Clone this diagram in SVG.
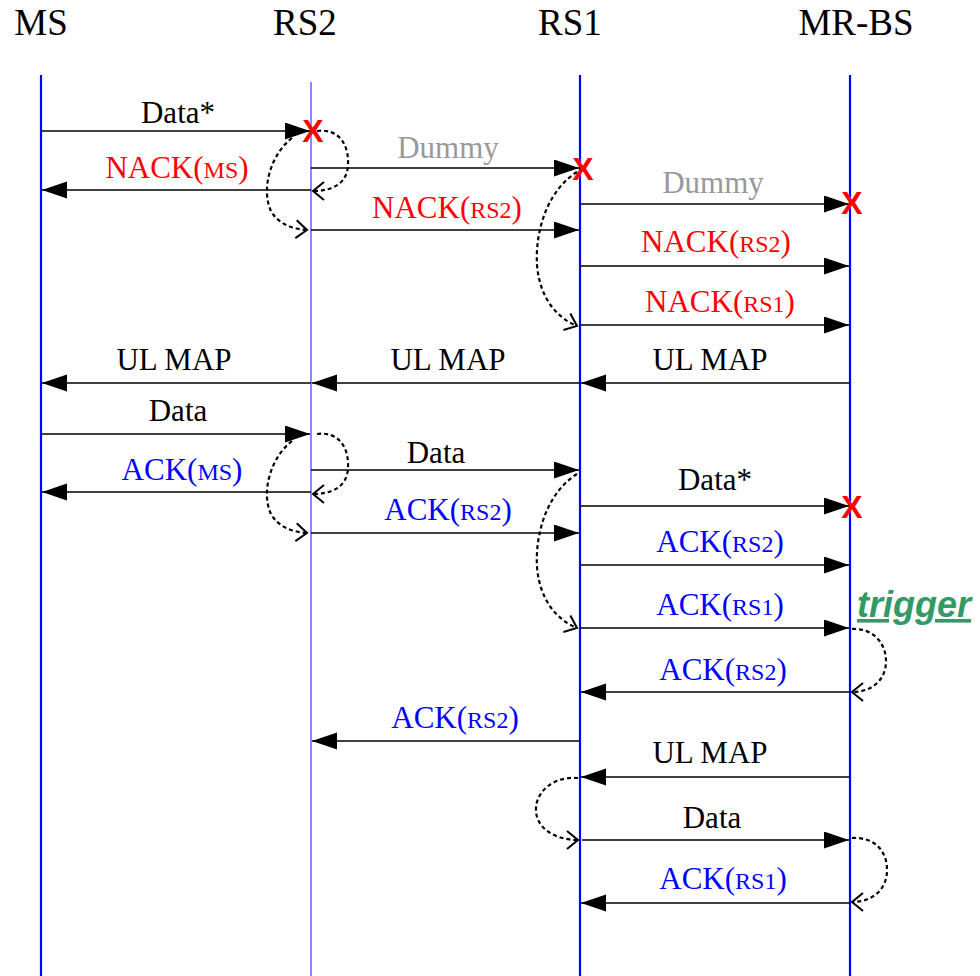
<svg xmlns="http://www.w3.org/2000/svg" width="980" height="976" viewBox="0 0 980 976">
<style>
.title{font-family:"Liberation Serif","Times New Roman",serif;font-size:37px;fill:#000;text-anchor:middle}
.lbl{font-family:"Liberation Serif","Times New Roman",serif;font-size:31px;text-anchor:middle}
.sc{font-size:24px}
.blk{fill:#000}.red{fill:#ff0000}.blu{fill:#0000ff}.gry{fill:#999999}
.msg{stroke:#000;stroke-width:1.4;fill:none;marker-end:url(#ah)}
.dot{stroke:#000;stroke-width:2.2;stroke-dasharray:4 3;fill:none;marker-end:url(#oa)}
.life{stroke:#0000ff;stroke-width:2.2}
.x{font-family:"Liberation Sans",Arial,sans-serif;font-weight:bold;font-size:32px;fill:#ff0000;text-anchor:middle}
.trig{font-family:"Liberation Sans",Arial,sans-serif;font-weight:bold;font-style:italic;font-size:36px;fill:#339966;text-decoration:underline}
</style>
<defs>
<marker id="ah" markerUnits="userSpaceOnUse" markerWidth="26" markerHeight="18" refX="25" refY="8.5" orient="auto" viewBox="0 0 26 18"><path d="M0,0 L25,8.5 L0,17z" fill="#000"/></marker>
<marker id="oa" markerUnits="userSpaceOnUse" markerWidth="16" markerHeight="22" refX="0" refY="0" orient="auto" viewBox="-13 -11 16 22"><path d="M-11,-9 L0,0 L-11,9" stroke="#000" stroke-width="2" fill="none"/></marker>
</defs>
<rect width="980" height="976" fill="#fff"/>
<g id="MS"><text class="title" x="41" y="35">MS</text><line class="life" x1="41" y1="75" x2="41" y2="976"/></g>
<g id="RS2"><text class="title" x="305" y="35">RS2</text><line x1="311" y1="82" x2="311" y2="976" stroke="#3a3aff" stroke-width="1.2"/></g>
<g id="RS1"><text class="title" x="570" y="35">RS1</text><line class="life" x1="580" y1="75" x2="580" y2="976"/></g>
<g id="MR-BS"><text class="title" x="856" y="35">MR-BS</text><line class="life" x1="850" y1="75" x2="850" y2="976"/></g>
<g id="connectors">
<line class="msg" x1="41" y1="131" x2="310" y2="131"/>
<line class="msg" x1="311" y1="190" x2="42" y2="190"/>
<line class="msg" x1="311" y1="168" x2="579" y2="168"/>
<line class="msg" x1="311" y1="230" x2="579" y2="230"/>
<line class="msg" x1="580" y1="204" x2="849" y2="204"/>
<line class="msg" x1="580" y1="266" x2="849" y2="266"/>
<line class="msg" x1="580" y1="325" x2="849" y2="325"/>
<line class="msg" x1="850" y1="383" x2="581" y2="383"/>
<line class="msg" x1="580" y1="383" x2="312" y2="383"/>
<line class="msg" x1="311" y1="383" x2="42" y2="383"/>
<line class="msg" x1="41" y1="434" x2="310" y2="434"/>
<line class="msg" x1="311" y1="470" x2="579" y2="470"/>
<line class="msg" x1="311" y1="492" x2="42" y2="492"/>
<line class="msg" x1="311" y1="533" x2="579" y2="533"/>
<line class="msg" x1="580" y1="506" x2="849" y2="506"/>
<line class="msg" x1="580" y1="565" x2="849" y2="565"/>
<line class="msg" x1="580" y1="628" x2="849" y2="628"/>
<line class="msg" x1="850" y1="692" x2="581" y2="692"/>
<line class="msg" x1="580" y1="741" x2="312" y2="741"/>
<line class="msg" x1="850" y1="777" x2="581" y2="777"/>
<line class="msg" x1="582" y1="840" x2="849" y2="840"/>
<line class="msg" x1="850" y1="903" x2="581" y2="903"/>
<path class="dot" d="M317,131 C340,128 349,146 348,165 C347,184 332,191 313,191"/>
<path class="dot" d="M292,138 C270,155 261,190 271,211 C279,225 294,229 307,230"/>
<path class="dot" d="M577,172 C548,190 535,230 537,265 C540,300 558,318 577,326"/>
<path class="dot" d="M317,434 C340,431 349,449 348,468 C347,487 332,494 313,494"/>
<path class="dot" d="M292,441 C270,458 261,493 271,514 C279,528 294,532 307,533"/>
<path class="dot" d="M577,474 C548,492 535,532 537,567 C540,602 558,620 577,628"/>
<path class="dot" d="M852,629 C875,628 886,645 886,661 C886,680 872,692 852,692"/>
<path class="dot" d="M578,778 C555,776 537,790 536,808 C535,828 555,840 578,840"/>
<path class="dot" d="M852,838 C876,837 887,852 887,870 C887,889 873,902 852,902"/>
</g>
<g id="labels">
<text class="lbl blk" x="178" y="123">Data*</text>
<text class="lbl red" x="177" y="178">NACK(<tspan class="sc">MS</tspan>)</text>
<text class="lbl gry" x="448" y="158">Dummy</text>
<text class="lbl red" x="447" y="218">NACK(<tspan class="sc">RS2</tspan>)</text>
<text class="lbl gry" x="713" y="193">Dummy</text>
<text class="lbl red" x="716" y="252">NACK(<tspan class="sc">RS2</tspan>)</text>
<text class="lbl red" x="720" y="312">NACK(<tspan class="sc">RS1</tspan>)</text>
<text class="lbl blk" x="174" y="370">UL MAP</text>
<text class="lbl blk" x="448" y="370">UL MAP</text>
<text class="lbl blk" x="710" y="370">UL MAP</text>
<text class="lbl blk" x="178" y="421">Data</text>
<text class="lbl blu" x="182" y="480">ACK(<tspan class="sc">MS</tspan>)</text>
<text class="lbl blk" x="436" y="463">Data</text>
<text class="lbl blu" x="448" y="520">ACK(<tspan class="sc">RS2</tspan>)</text>
<text class="lbl blk" x="715" y="490">Data*</text>
<text class="lbl blu" x="720" y="552">ACK(<tspan class="sc">RS2</tspan>)</text>
<text class="lbl blu" x="720" y="615">ACK(<tspan class="sc">RS1</tspan>)</text>
<text class="trig" x="857" y="617">trigger</text>
<text class="lbl blu" x="723" y="680">ACK(<tspan class="sc">RS2</tspan>)</text>
<text class="lbl blu" x="455" y="728">ACK(<tspan class="sc">RS2</tspan>)</text>
<text class="lbl blk" x="710" y="763">UL MAP</text>
<text class="lbl blk" x="712" y="828">Data</text>
<text class="lbl blu" x="723" y="889">ACK(<tspan class="sc">RS1</tspan>)</text>
<text class="x" x="313" y="142">X</text>
<text class="x" x="583" y="180">X</text>
<text class="x" x="852" y="214">X</text>
<text class="x" x="852" y="518">X</text>
</g>
</svg>
